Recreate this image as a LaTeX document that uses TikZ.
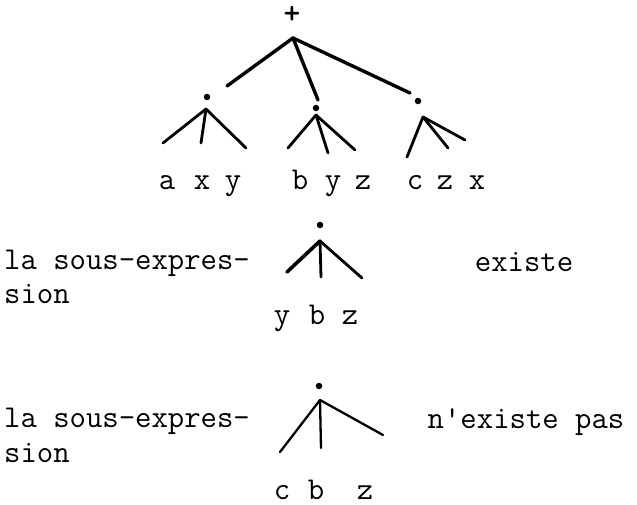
\documentclass[tikz,border=0pt]{standalone}
\usepackage{tikz}
\usetikzlibrary{positioning}

\tikzset{
  lettre/.style={font=\fontsize{31.8}{34}\selectfont\ttfamily, inner sep=0pt, anchor=base},
  texte/.style={font=\fontsize{31.8}{34}\selectfont\ttfamily, inner sep=0pt, anchor=base west},
  point/.style={circle, fill=black, inner sep=0pt, minimum size=6.5pt},
  branche/.style={line width=3.4pt, line cap=round},
  jambe/.style={line width=2.8pt, line cap=round}
}

\begin{document}
\begin{tikzpicture}[x=1pt,y=-1pt]
  \useasboundingbox (0,0) rectangle (637,504);
  \def\hL{189}
  % arbre du haut
  \node[font=\fontsize{32}{32}\selectfont\bfseries\ttfamily, inner sep=0pt] (plus) at (292,15) {+};
  \coordinate (racine) at (293,38);
  \coordinate (bg) at (227,86);
  \coordinate (bm) at (318,100);
  \coordinate (bd) at (410,93);
  \draw[branche] (racine) -- (bg);
  \draw[branche] (racine) -- (bm);
  \draw[branche] (racine) -- (bd);
  \node[point] (pg) at (207,97) {};
  \node[point] (pm) at (316,108) {};
  \node[point] (pd) at (418,101) {};
  % sous-arbres
  \coordinate (sg) at (206,109);
  \coordinate (sm) at (316,115);
  \coordinate (sd) at (423,117);
  \foreach \n/\x/\y in {g1/163/143, g2/201/143, g3/246/148}
    \draw[jambe] (sg) -- (\x,\y) coordinate (\n);
  \foreach \n/\x/\y in {m1/288/148, m2/328/153, m3/355/150}
    \draw[jambe] (sm) -- (\x,\y) coordinate (\n);
  \foreach \n/\x/\y in {d1/407/157, d2/448/148, d3/465/140}
    \draw[jambe] (sd) -- (\x,\y) coordinate (\n);
  \foreach \n/\x/\t in {la/167/a, lb/202/x, lc/233/y, ld/300/b, le/333/y, lf/363/z, lg/415/c, lh/445/z, li/477/x}
    \node[lettre] (\n) at (\x,\hL) {\t};
  % premier cas
  \node[texte] (se1) at (4,269) {la sous-expres-};
  \node[texte] (si1) at (4,303) {sion};
  \node[point] (p1) at (320,225) {};
  \coordinate (s1) at (320,241);
  \draw[jambe, line width=3.6pt] (s1) -- (287,272) coordinate (u1);
  \draw[jambe] (s1) -- (321,277) coordinate (u2);
  \draw[jambe] (s1) -- (362,278) coordinate (u3);
  \node[lettre] (y1) at (282,324) {y};
  \node[lettre] (b1) at (317,324) {b};
  \node[lettre] (z1) at (350,324) {z};
  \node[lettre] (ex) at (524,271) {existe};
  % second cas
  \node[texte] (se2) at (4,427) {la sous-expres-};
  \node[texte] (si2) at (4,462) {sion};
  \node[point] (p2) at (319,386) {};
  \coordinate (s2) at (320,400);
  \draw[jambe, line width=2.3pt] (s2) -- (280,452) coordinate (v1);
  \draw[jambe, line width=2.3pt] (s2) -- (321,448) coordinate (v2);
  \draw[jambe, line width=2.3pt] (s2) -- (383,435) coordinate (v3);
  \node[lettre] (c2) at (282,499) {c};
  \node[lettre] (b2) at (316,499) {b};
  \node[lettre] (z2) at (365,499) {z};
  \node[lettre] (nex) at (526,428) {n\textquotesingle existe pas};
\end{tikzpicture}
\end{document}
